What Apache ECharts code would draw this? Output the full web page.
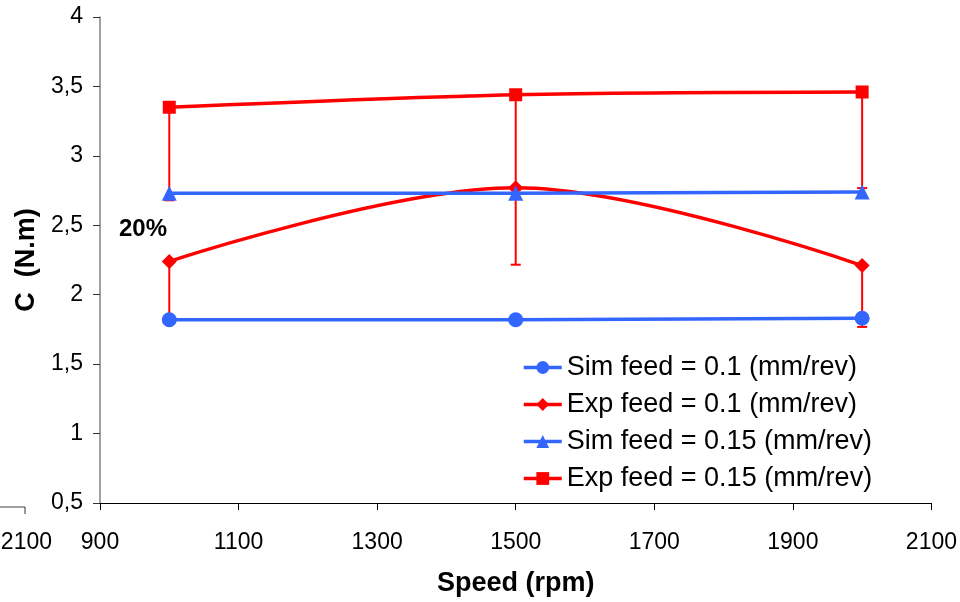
<!DOCTYPE html>
<html><head><meta charset="utf-8">
<script src="https://cdn.jsdelivr.net/npm/echarts@6/dist/echarts.min.js"></script>
<style>html,body{margin:0;padding:0;background:#fff}#c{width:960px;height:602px}</style>
</head><body><div id="c"></div>
<script>
const speeds = [1000, 1500, 2000];
const simFeed01 = [1.82, 1.82, 1.83];
const expFeed01 = [2.24, 2.77, 2.21];
const simFeed015 = [2.73, 2.73, 2.74];
const expFeed015 = [3.35, 3.44, 3.46];
const errorPct = 0.20;
const xTicks = [900, 1100, 1300, 1500, 1700, 1900, 2100];
const seriesNames = ['Sim feed = 0.1 (mm/rev)', 'Exp feed = 0.1 (mm/rev)', 'Sim feed = 0.15 (mm/rev)', 'Exp feed = 0.15 (mm/rev)'];

const RED = '#FF0000', BLUE = '#3366FF';
const FONT = 'Liberation Sans, Arial, sans-serif';
const pts = arr => speeds.map((s, i) => [s, arr[i]]);
const errData = arr => speeds.map((s, i) => [s, arr[i], arr[i] * (1 - errorPct)]);

function errRender(params, api) {
  const top = api.coord([api.value(0), api.value(1)]);
  const bot = api.coord([api.value(0), api.value(2)]);
  return {
    type: 'group',
    children: [
      {type: 'line', shape: {x1: top[0], y1: top[1], x2: bot[0], y2: bot[1]}, style: {stroke: RED, lineWidth: 2}},
      {type: 'line', shape: {x1: bot[0] - 5, y1: bot[1], x2: bot[0] + 5, y2: bot[1]}, style: {stroke: RED, lineWidth: 2}}
    ]
  };
}

const chart = echarts.init(document.getElementById('c'), null, {renderer: 'canvas'});
const fmt = v => String(v).replace('.', ',');
chart.setOption({
  animation: false,
  backgroundColor: '#fff',
  grid: {left: 100, right: 28, top: 17, bottom: 95, containLabel: false},
  xAxis: {
    type: 'value', min: 900, max: 2100, interval: 200,
    name: 'Speed (rpm)', nameLocation: 'middle', nameGap: 67,
    nameTextStyle: {fontFamily: FONT, fontWeight: 'bold', fontSize: 27, color: '#000'},
    axisLine: {lineStyle: {color: '#000', width: 1}},
    axisTick: {show: true, length: 7, lineStyle: {color: '#000'}},
    axisLabel: {fontFamily: FONT, fontSize: 23, color: '#000', margin: 28,
      formatter: v => xTicks.includes(v) ? String(v) : ''},
    splitLine: {show: false}
  },
  yAxis: {
    type: 'value', min: 0.5, max: 4, interval: 0.5,
    name: 'C  (N.m)', nameLocation: 'middle', nameGap: 60, nameRotate: 90,
    nameTextStyle: {fontFamily: FONT, fontWeight: 'bold', fontSize: 27, color: '#000'},
    axisLine: {show: true, lineStyle: {color: '#808080', width: 1.5}},
    axisTick: {show: true, length: 7, lineStyle: {color: '#333'}},
    axisLabel: {fontFamily: FONT, fontSize: 23, color: '#000', margin: 17, formatter: v => fmt(v)},
    splitLine: {show: false}
  },
  legend: {
    orient: 'vertical', left: 517, top: 349, itemGap: 10, itemWidth: 38, itemHeight: 16,
    data: seriesNames,
    textStyle: {fontFamily: FONT, fontSize: 27, color: '#000'},
    itemStyle: {borderWidth: 0},
    lineStyle: {width: 3.5}
  },
  series: [
    {type: 'custom', name: 'err01', renderItem: errRender, data: errData(expFeed01), z: 1, silent: true},
    {type: 'custom', name: 'err015', renderItem: errRender, data: errData(expFeed015), z: 1, silent: true},
    {type: 'line', name: seriesNames[0], data: pts(simFeed01), symbol: 'circle', symbolSize: 15, z: 3,
      lineStyle: {color: BLUE, width: 3.5}, itemStyle: {color: BLUE}},
    {type: 'line', name: seriesNames[1], data: pts(expFeed01), symbol: 'diamond', symbolSize: 15, smooth: 0.35, z: 3,
      lineStyle: {color: RED, width: 3.5}, itemStyle: {color: RED}},
    {type: 'line', name: seriesNames[2], data: pts(simFeed015), symbol: 'triangle', symbolSize: 15, z: 4,
      lineStyle: {color: BLUE, width: 3.5}, itemStyle: {color: BLUE}},
    {type: 'line', name: seriesNames[3], data: pts(expFeed015), symbol: 'rect', symbolSize: 13, smooth: 0.3, z: 3,
      lineStyle: {color: RED, width: 3.5}, itemStyle: {color: RED}}
  ],
  graphic: [
    {type: 'text', left: 119, top: 217, style: {text: '20%', fontFamily: FONT, fontWeight: 'bold', fontSize: 24, fill: '#000'}},
    {type: 'text', right: 908, top: 531, style: {text: '2100', fontFamily: FONT, fontSize: 23, fill: '#000'}},
    {type: 'line', shape: {x1: 0, y1: 507, x2: 25, y2: 507}, style: {stroke: '#808080', lineWidth: 1.5}},
    {type: 'line', shape: {x1: 25, y1: 507, x2: 25, y2: 514}, style: {stroke: '#333', lineWidth: 1}}
  ]
});
</script></body></html>
